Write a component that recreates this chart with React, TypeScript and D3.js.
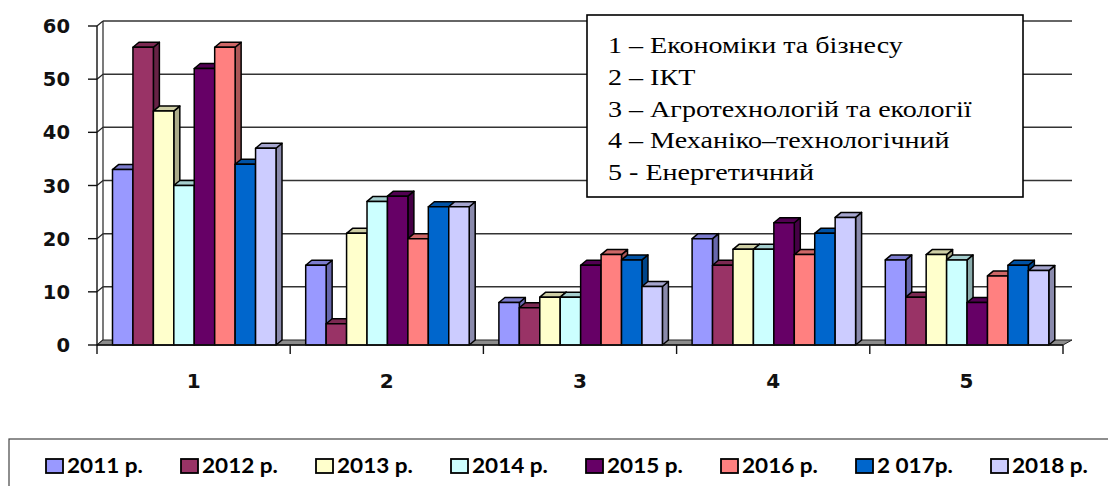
import * as d3 from 'd3'

const categories = ['1', '2', '3', '4', '5']
const years = ['2011 р.', '2012 р.', '2013 р.', '2014 р.', '2015 р.', '2016 р.', '2 017р.', '2018 р.']
const colors = ['#9999FF', '#993366', '#FFFFCC', '#CCFFFF', '#660066', '#FF8080', '#0066CC', '#CCCCFF']

// values per year, one per category
const v2011 = [33, 15, 8, 20, 16]
const v2012 = [56, 4, 7, 15, 9]
const v2013 = [44, 21, 9, 18, 17]
const v2014 = [30, 27, 9, 18, 16]
const v2015 = [52, 28, 15, 23, 8]
const v2016 = [56, 20, 17, 17, 13]
const v2017 = [34, 26, 16, 21, 15]
const v2018 = [37, 26, 11, 24, 14]
const series = [v2011, v2012, v2013, v2014, v2015, v2016, v2017, v2018]

const yTicks = [0, 10, 20, 30, 40, 50, 60]

const facultyLegend = [
  '1 – Економіки та бізнесу',
  '2 – ІКТ',
  '3 – Агротехнологій та екології',
  '4 – Механіко–технологічний',
  '5 - Енергетичний',
]

export default function App() {
  const width = 1108
  const height = 486
  const left = 97
  const right = 1063
  const dx = 6
  const dy = -5

  const x = d3.scaleBand<string>().domain(categories).range([left, right])
  const inner = d3.scaleBand<string>().domain(years).range([15.5, 179])
  const y = d3.scaleLinear().domain([0, 60]).range([345, 26])
  const y0 = y(0)
  const bw = inner.bandwidth()

  return (
    <div style={{ position: 'fixed', left: 0, top: 0 }}>
      <svg width={width} height={height} viewBox={`0 0 ${width} ${height}`} style={{ display: 'block', background: '#fff' }}>
        {/* back wall grid */}
        <line x1={left + dx} x2={left + dx} y1={y(60) + dy} y2={y0 + dy} stroke="#222" strokeWidth="1.2" />
        {yTicks.map((t) => (
          <g key={t}>
            <line x1={left - 9} x2={left} y1={y(t)} y2={y(t)} stroke="#111" strokeWidth="1.4" />
            <line x1={left} x2={left + dx} y1={y(t)} y2={y(t) + dy} stroke="#222" strokeWidth="1.2" />
            {t > 0 && (
              <line x1={left + dx} x2={right + dx + 3} y1={y(t) + dy} y2={y(t) + dy} stroke="#333" strokeWidth="1.5" />
            )}
            <text
              x={70}
              y={y(t) + 7}
              textAnchor="end"
              fontFamily="DejaVu Sans"
              fontWeight="bold"
              fontSize="19.5"
              fill="#111"
            >
              {t}
            </text>
          </g>
        ))}

        {/* floor */}
        <polygon
          points={`${left},${y0} ${right},${y0} ${right + dx + 3},${y0 + dy} ${left + dx},${y0 + dy}`}
          fill="#8c8c8c"
          stroke="#222"
          strokeWidth="1"
        />

        {/* bars */}
        {categories.map((cat, ci) => (
          <g key={cat}>
            {series.map((vals, si) => {
              const color = colors[si]
              const bx = (x(cat) ?? 0) + (inner(years[si]) ?? 0)
              const by = y(vals[ci])
              const side = d3.color(color)!.darker(1.1).formatHex()
              const top = d3.color(color)!.darker(0.6).formatHex()
              return (
                <g key={si} stroke="#000" strokeWidth="1.5" strokeLinejoin="round">
                  <polygon
                    points={`${bx + bw},${by} ${bx + bw + dx},${by + dy} ${bx + bw + dx},${y0 + dy} ${bx + bw},${y0}`}
                    fill={side}
                  />
                  <polygon
                    points={`${bx},${by} ${bx + dx},${by + dy} ${bx + bw + dx},${by + dy} ${bx + bw},${by}`}
                    fill={top}
                  />
                  <rect x={bx} y={by} width={bw} height={y0 - by} fill={color} />
                </g>
              )
            })}
          </g>
        ))}

        {/* front axes */}
        <line x1={left} x2={left} y1={y(60)} y2={y0} stroke="#111" strokeWidth="1.4" />
        <line x1={left} x2={right} y1={y0} y2={y0} stroke="#111" strokeWidth="1.6" />
        {[...categories.map((c) => x(c) ?? 0), right].map((tx, i) => (
          <line key={i} x1={tx} x2={tx} y1={y0} y2={y0 + 9} stroke="#111" strokeWidth="1.4" />
        ))}
        {categories.map((c) => (
          <text
            key={c}
            x={(x(c) ?? 0) + x.bandwidth() / 2}
            y={388}
            textAnchor="middle"
            fontFamily="DejaVu Sans"
            fontWeight="bold"
            fontSize="20"
            fill="#111"
          >
            {c}
          </text>
        ))}

        {/* faculty legend */}
        <rect x={587} y={15} width={436} height={182} fill="#fff" stroke="#000" strokeWidth="1.6" />
        <g transform="translate(608,0) scale(1.17,1)">
          {facultyLegend.map((label, i) => (
            <text key={label} x={0} y={53 + i * 31.8} fontFamily="Liberation Serif" fontSize="24" fill="#000">
              {label}
            </text>
          ))}
        </g>

        {/* year legend */}
        <rect x={9} y={439} width={1120} height={60} fill="#fff" stroke="#444" strokeWidth="1.2" />
        {years.map((yr, i) => {
          const lx = 46 + i * 135
          return (
            <g key={yr}>
              <rect x={lx} y={459} width={17} height={14} fill={colors[i]} stroke="#000" strokeWidth="1.8" />
              <g transform={`translate(${lx + 21},473) scale(1.1,1)`}>
                <text x={0} y={0} fontFamily="Lato" fontWeight="bold" fontSize="20.5" fill="#000">
                  {yr}
                </text>
              </g>
            </g>
          )
        })}
      </svg>
    </div>
  )
}
